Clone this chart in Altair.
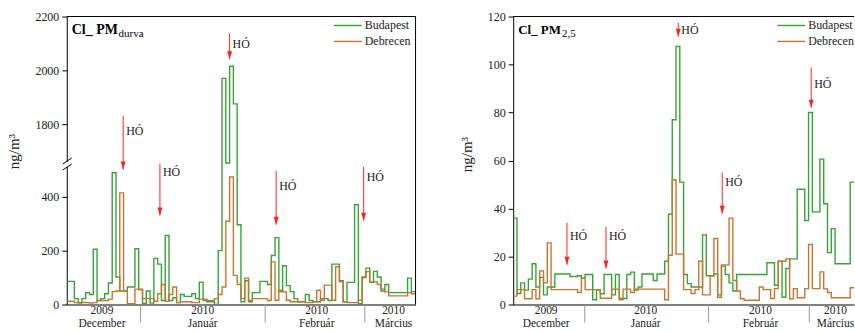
import altair as alt
import pandas as pd

FONT = "Liberation Serif"
GREEN = "#36a336"
ORANGE = "#c8742f"
RED = "#ff2222"
H = 289

series_names = ["Budapest", "Debrecen"]
years = ["2009", "2010", "2010", "2010"]
months = ["December", "Január", "Február", "Március"]

# ---- Cl PM durva (coarse), daily values, ng/m3 ----
bp_coarse = [86, 86, 22, 7, 22, 44, 37, 205, 15, 22,
             40, 80, 489, 102, 50, 50, 65, 65, 207, 57,
             4, 50, 5, 171, 150, 15, 256, 15, 25, 7,
             37, 30, 30, 40, 22, 83, 15, 10, 10, 0,
             200, 1970, 1100, 2015, 1875, 296, 10, 88, 10, 44,
             44, 86, 86, 74, 182, 248, 48, 144, 70, 48,
             22, 10, 10, 37, 15, 10, 10, 22, 22, 15,
             150, 150, 88, 10, 82, 82, 370, 3, 100, 135,
             82, 123, 102, 50, 74, 44, 44, 44, 44, 44,
             98, 48]
db_coarse = [12, 12, 7, 5, 8, 7, 5, 7, 15, 15,
             15, 20, 48, 50, 414, 50, 3, 3, 57, 55,
             22, 22, 22, 12, 40, 74, 12, 37, 65, 7,
             10, 10, 10, 7, 7, 20, 20, 15, 15, 22,
             37, 65, 309, 473, 108, 74, 22, 98, 15, 22,
             22, 22, 22, 15, 158, 16, 53, 47, 16, 10,
             10, 10, 10, 7, 7, 10, 53, 16, 72, 72,
             16, 140, 84, 10, 7, 7, 7, 16, 102, 122,
             84, 84, 74, 57, 47, 32, 32, 32, 32, 32,
             44, 40]

# ---- Cl PM2,5 (fine), daily values, ng/m3 ----
bp_fine = [36, 4.6, 9, 6, 10.6, 17, 7.3, 11.3, 4, 7.3,
           7.3, 12.7, 12.7, 12.7, 12.7, 11.7, 11.7, 12, 11, 12.5,
           12.5, 2, 6, 4.5, 12.5, 12.5, 4, 12.5, 2.5, 2.5,
           12.5, 13.5, 6, 7.3, 12.7, 12.7, 12.7, 10, 12.7, 12.7,
           18, 37.6, 77, 107.5, 51, 12.5, 8.7, 7.3, 7.3, 7.3,
           29, 12, 12, 12.7, 4, 16, 12.5, 9, 5.6, 12.5,
           12.5, 12.5, 12.5, 12.5, 12.5, 12.5, 12.5, 17.4, 17.4, 8,
           18, 3, 15, 19, 19, 48, 48, 35, 80, 38.6,
           38.6, 60.6, 42, 21.6, 31.6, 17, 17, 17, 17, 51,
           51, 51]
db_fine = [3.5, 6.2, 6.2, 2.4, 2.4, 6.2, 2.4, 14, 9, 25.7,
           6.2, 6.2, 6.2, 6.2, 6.2, 6.2, 6.2, 5, 11, 6.2,
           6.2, 6.2, 6.2, 2.6, 2.6, 2.6, 6.4, 6.4, 2, 6.4,
           6.4, 5, 6.4, 6.4, 6.4, 6.4, 6.4, 6.4, 6.4, 6.4,
           2, 20.5, 52, 21, 21, 6.2, 6.2, 4.6, 6.2, 18,
           4, 4, 12, 27.5, 3, 16.5, 16.5, 36, 10, 5.6,
           2.4, 1.8, 1.8, 1.8, 1.8, 7.3, 6.2, 6.2, 2.5, 6.6,
           18, 18, 19, 2.4, 6.6, 2.8, 2.8, 6.6, 25, 6.6,
           6.6, 13.6, 6.5, 5, 2.8, 2.8, 2.8, 2.8, 2.8, 7,
           7, 6]

# snow ("HÓ") events: arrow day, arrow top value, arrow tip value, label value
snow_day_coarse = [14.9, 24.6, 43.0, 55.3, 78.4]
snow_top_coarse = [1830, 522, 2137, 496, 511]
snow_tip_coarse = [501, 330, 2041, 296, 311]
snow_lab_coarse = [1774, 493, 2096, 441, 474]

snow_day_fine = [14.2, 24.5, 43.6, 55.2, 78.7]
snow_top_fine = [34, 32.3, 117.4, 55, 98.7]
snow_tip_fine = [16.6, 15, 111.6, 37.8, 82]
snow_lab_fine = [28.7, 28.7, 114.3, 51.2, 91.8]

sep_days_coarse = [19.5, 52.4, 78.7]
mon_days_coarse = [9.3, 35.9, 66.0, 86.3]
sep_days_fine = [18.9, 51.6, 78.2]
mon_days_fine = [8.7, 35.0, 65.3, 85.1]

ARROW_HEAD = "M-1,-3.2L1,-3.2L0,0Z"


def step_df(values):
    days = list(range(len(values))) + [len(values)]
    return pd.DataFrame({"day": days, "val": list(values) + [values[-1]]})


def panel(bp, db, width, day_max, y_scale, y_ticks, title_main, title_sub, sub_x,
          main_size, sub_size, s_day, s_top, s_tip, s_lab, sep_days, mon_days,
          title_y, broken, right_frame, leg_x):
    x_enc = alt.X("day:Q", scale=alt.Scale(domain=[0, day_max], nice=False, zero=False),
                  axis=alt.Axis(labels=False, ticks=False, grid=False, title=None))
    y_axis = alt.Axis(values=y_ticks, title="ng/m³", grid=False, format="d",
                      titleY=title_y, zindex=0)

    def Y(field):
        return alt.Y(field, axis=y_axis, title="ng/m³")

    green = alt.Chart(step_df(bp)).mark_line(
        interpolate="step-after", color=GREEN, strokeWidth=1.4, clip=True
    ).encode(x=x_enc, y=alt.Y("val:Q", scale=y_scale, axis=y_axis, title="ng/m³"))
    orange = alt.Chart(step_df(db)).mark_line(
        interpolate="step-after", color=ORANGE, strokeWidth=1.4, clip=True
    ).encode(x=x_enc, y=Y("val:Q"))

    snow = pd.DataFrame({"day": s_day, "top": s_top, "tip": s_tip, "lab": s_lab,
                         "txt": ["HÓ"] * len(s_day)})
    arrow = alt.Chart(snow).mark_rule(color=RED, strokeWidth=1).encode(
        x=x_enc, y=Y("top:Q"), y2="tip:Q")
    head = alt.Chart(snow).mark_point(shape=ARROW_HEAD, filled=True, size=25,
                                      color=RED, opacity=1).encode(
        x=x_enc, y=Y("tip:Q"))
    snow_txt = alt.Chart(snow).mark_text(
        align="left", baseline="middle", font=FONT, fontSize=12, dx=3, color="#222"
    ).encode(x=x_enc, y=Y("lab:Q"), text="txt:N")

    seps = alt.Chart(pd.DataFrame({"day": sep_days})).mark_rule(
        color="#9a9a9a", strokeWidth=1
    ).encode(x=x_enc, y=alt.value(H), y2=alt.value(H + 18))
    mon = pd.DataFrame({"day": mon_days, "year": years, "month": months})
    year_txt = alt.Chart(mon).mark_text(font=FONT, fontSize=11.5, baseline="middle",
                                        color="#222").encode(
        x=x_enc, y=alt.value(H + 7), text="year:N")
    mon_txt = alt.Chart(mon).mark_text(font=FONT, fontSize=11.5, baseline="middle",
                                       color="#222").encode(
        x=x_enc, y=alt.value(H + 20), text="month:N")

    frame_top = alt.Chart(pd.DataFrame({"a": [0]})).mark_rule(color="black").encode(
        x=alt.value(0), x2=alt.value(width), y=alt.value(0))

    t_main = alt.Chart(pd.DataFrame({"t": [title_main]})).mark_text(
        font=FONT, fontSize=main_size, fontWeight="bold", align="left", baseline="alphabetic"
    ).encode(x=alt.value(5), y=alt.value(18), text="t:N")
    t_sub = alt.Chart(pd.DataFrame({"t": [title_sub]})).mark_text(
        font=FONT, fontSize=sub_size, align="left", baseline="alphabetic"
    ).encode(x=alt.value(sub_x), y=alt.value(21), text="t:N")

    layers = [green, orange, arrow, head, snow_txt, seps, year_txt, mon_txt,
              frame_top, t_main, t_sub]

    if right_frame:
        layers.append(alt.Chart(pd.DataFrame({"a": [0]})).mark_rule(color="black").encode(
            x=alt.value(width), y=alt.value(0), y2=alt.value(H)))

    leg_color = [GREEN, ORANGE]
    for i, name in enumerate(series_names):
        ly = 9 + 16 * i
        layers.append(alt.Chart(pd.DataFrame({"a": [0]})).mark_rule(
            color=leg_color[i], strokeWidth=1.4).encode(
            x=alt.value(leg_x), x2=alt.value(leg_x + 28), y=alt.value(ly)))
        layers.append(alt.Chart(pd.DataFrame({"t": [name]})).mark_text(
            font=FONT, fontSize=12, align="left", baseline="middle", color="#222").encode(
            x=alt.value(leg_x + 31), y=alt.value(ly), text="t:N"))

    if broken:
        layers.append(alt.Chart(pd.DataFrame({"a": [0]})).mark_rect(color="white").encode(
            x=alt.value(-2), x2=alt.value(2), y=alt.value(146), y2=alt.value(151)))
        for y0 in (145, 151):
            layers.append(alt.Chart(pd.DataFrame({"a": [0]})).mark_rule(
                color="black", strokeWidth=1).encode(
                x=alt.value(-4), x2=alt.value(5), y=alt.value(y0 + 3), y2=alt.value(y0 - 3)))

    return alt.layer(*layers).properties(width=width, height=H)


left = panel(
    bp_coarse, db_coarse, 350, 92.1,
    alt.Scale(domain=[0, 525, 1655, 2200], range=[H, 147, 147, 0], nice=False, zero=False),
    [0, 200, 400, 1800, 2000, 2200],
    "Cl_ PM", "durva", 52, 14, 11,
    snow_day_coarse, snow_top_coarse, snow_tip_coarse, snow_lab_coarse,
    sep_days_coarse, mon_days_coarse, 135, True, True, 268)

right = panel(
    bp_fine, db_fine, 342, 90.0,
    alt.Scale(domain=[0, 120], nice=False, zero=False),
    [0, 20, 40, 60, 80, 100, 120],
    "Cl_ PM", "2,5", 49, 13, 11,
    snow_day_fine, snow_top_fine, snow_tip_fine, snow_lab_fine,
    sep_days_fine, mon_days_fine, 138, False, False, 265)

chart = alt.hconcat(left, right, spacing=43).properties(
    padding={"left": 7, "top": 10, "right": 0, "bottom": 0}
).configure_view(stroke=None).configure_axis(
    labelFont=FONT, labelFontSize=12, labelColor="#222",
    titleFont=FONT, titleFontSize=15, titleFontWeight="normal", titleColor="#222",
    tickColor="black", domainColor="black", tickSize=5, labelPadding=3,
    titlePadding=13, domainWidth=1, tickWidth=1
)

chart.save("out.html", embed_options={"renderer": "svg", "actions": False})
